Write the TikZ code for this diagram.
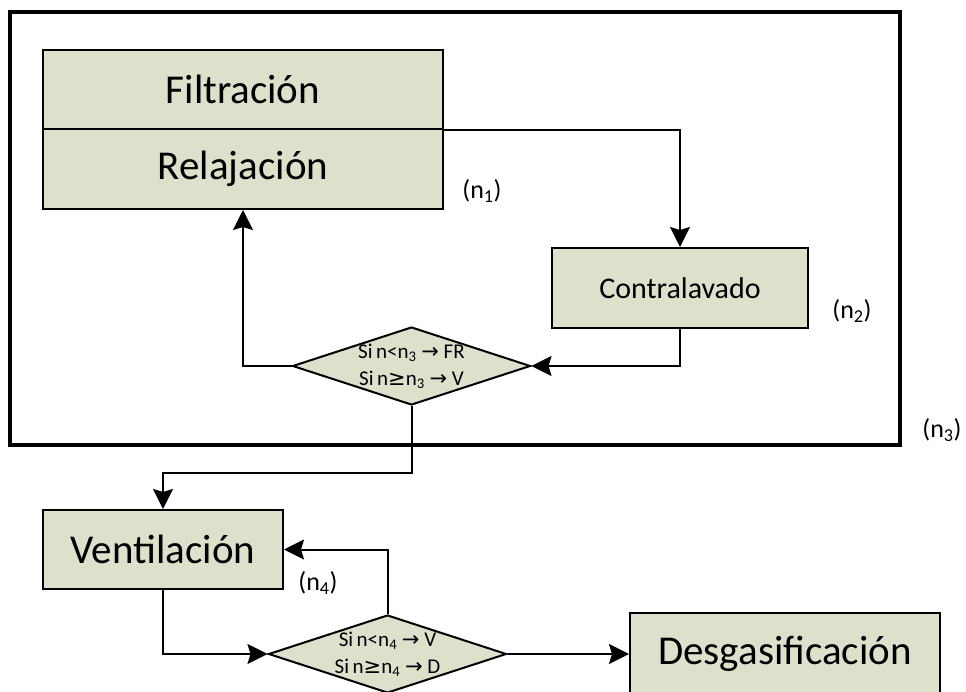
\documentclass[tikz,border=0pt]{standalone}
\usepackage{fontspec}
\setmainfont{Carlito}
\newfontfamily\symfont{DejaVu Sans}
\usetikzlibrary{shapes.geometric,arrows.meta}
\definecolor{cajafondo}{RGB}{221,224,202}
\newcommand{\flechita}{{\symfont →}}
\newcommand{\mayorig}{{\symfont ≥}}

\begin{document}
\begin{tikzpicture}[x=1pt, y=-1pt, line width=2pt,
  caja/.style={draw, fill=cajafondo, inner sep=0pt, font=\fontsize{41}{45}\selectfont}, % cajas de proceso
  decision/.style={diamond, draw, fill=cajafondo, inner sep=0pt, minimum width=238pt, minimum height=78pt}, % rombos
  condicion/.style={align=center, inner sep=0pt, font=\fontsize{21}{27}\selectfont}, % texto del rombo
  flecha/.style={-{Stealth[length=20pt, width=20pt, inset=3pt]}},
  etiqueta/.style={font=\fontsize{26}{30}\selectfont}]
  \useasboundingbox (0,0) rectangle (966,692);

  \draw[line width=4pt] (10,12) rectangle (900,445); % marco del ciclo (n3)

  \node[caja, minimum width=400pt, minimum height=79pt] (fil) at (243,89.5) {Filtración};
  \node[caja, minimum width=400pt, minimum height=80pt] (rel) at (243,169) {Relajación};
  \node[caja, minimum width=256pt, minimum height=80pt, font=\fontsize{30}{34}\selectfont] (contra) at (680,288) {Contralavado};
  \node[decision, label={[condicion]center:Si\,n<n\textsubscript{3} \flechita{} FR\\Si\,n\mayorig n\textsubscript{3} \flechita{} V}] (d1) at (411.5,366) {};
  \node[caja, minimum width=240pt, minimum height=79pt] (vent) at (163,549.5) {Ventilación};
  \node[decision, label={[condicion]center:Si\,n<n\textsubscript{4} \flechita{} V\\Si\,n\mayorig n\textsubscript{4} \flechita{} D}] (d2) at (387.5,654) {};
  \node[caja, minimum width=310pt, minimum height=82pt] (desg) at (785,654) {Desgasificación};

  % etiquetas
  \node[etiqueta] (n1) at (482,191) {(n\textsubscript{1})};
  \node[etiqueta] (n2) at (852,311) {(n\textsubscript{2})};
  \node[etiqueta] (n3) at (942,430) {(n\textsubscript{3})};
  \node[etiqueta] (n4) at (318,583) {(n\textsubscript{4})};

  % conexiones
  \draw[flecha] (fil.south east) -| (contra.north);
  \draw[flecha] (contra.south) |- (d1.east);
  \draw[flecha] (d1.west) -| (rel.south);
  \draw[flecha] (d1.south) -- ++(0,67) -| (vent.north);
  \draw[flecha] (vent.south) |- (d2.west);
  \draw[flecha] (d2.north) |- (vent.east);
  \draw[flecha] (d2.east) -- (desg.west);
\end{tikzpicture}
\end{document}
